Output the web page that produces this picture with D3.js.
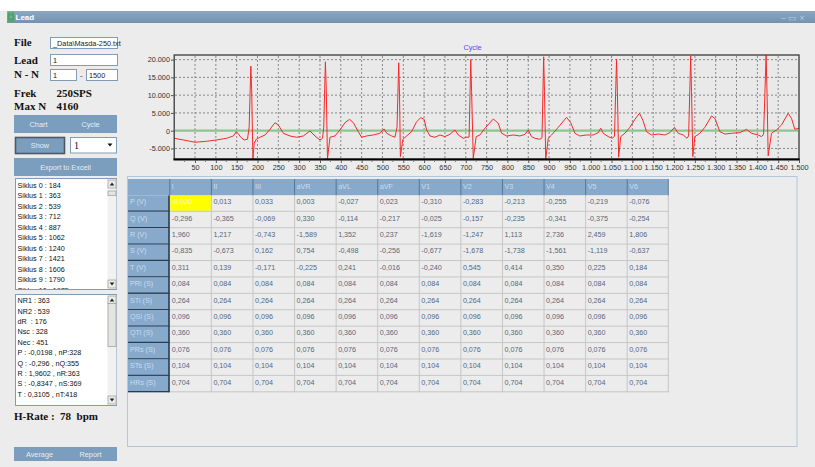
<!DOCTYPE html>
<html><head><meta charset="utf-8">
<script src="https://cdn.jsdelivr.net/npm/d3@7"></script>
<style>html,body{margin:0;padding:0;background:#fff;overflow:hidden}svg{display:block}text{white-space:pre}</style>
</head><body>
<script>
// ---------- DATA ----------
const ecgX = [0,22,50,78,102,126,142,149,154,160,168,176,180,184,186,189,192,197,206,218,230,242,250,262,278,294,310,326,338,350,356,359,363,365,368,374,386,398,410,421,430,442,450,462,478,494,504,510,522,530,535,539,541,543,549,558,570,582,592,600,606,614,626,638,650,662,674,682,694,702,708,712,714,718,725,734,746,766,778,786,798,814,830,842,850,858,866,878,883,887,889,892,898,906,922,942,952,962,974,990,1006,1018,1024,1030,1042,1052,1057,1062,1064,1067,1072,1082,1094,1106,1117,1125,1134,1146,1162,1178,1190,1201,1210,1222,1231,1235,1240,1242,1245,1250,1262,1274,1290,1298,1310,1322,1338,1358,1374,1386,1402,1410,1415,1421,1423,1426,1434,1446,1458,1474,1482,1490,1500];
const ecgY = [-2140,-2610,-3260,-2980,-2610,-2140,-1490,-280,-930,-1850,-2610,-2400,1120,18170,11430,-8000,-3540,-2420,-1850,-1210,390,2250,1600,-730,-1490,-1850,-1490,-80,-1490,-2610,-2140,1000,19380,12000,-8000,-1850,-1490,200,2250,3200,2250,-280,-1850,-1490,-1210,-730,480,-730,-1490,-1850,1000,19100,10000,-7300,-2420,-1490,-280,2530,3650,3200,200,-1490,-1850,-1210,-1660,-1000,200,-1210,-2140,-1850,-1800,20050,11000,-7750,-1680,-1210,670,3290,2070,-730,-1490,-1210,-1490,-1050,200,-1680,-2140,-2420,-2000,20800,11000,-8000,-2140,-1210,950,3750,2250,-730,-1490,-1210,-1210,-560,670,-730,-1680,-2140,-1500,20050,11000,-7470,-1680,-730,950,3200,4890,3000,-280,-1210,-950,-1210,-560,950,-730,-1210,-2140,-1500,20980,11000,-7300,-1680,-730,950,4130,3480,-280,-950,-730,-560,390,-730,-1210,-1680,-1000,21270,12000,-7100,-730,200,1600,4890,3480,390,670];
const xTicks = [50,100,150,200,250,300,350,400,450,500,550,600,650,700,750,800,850,900,950,1000,1050,1100,1150,1200,1250,1300,1350,1400,1450,1500];
const yTicks = [-5000,0,5000,10000,15000,20000];
const cycles = [184,363,539,712,887,1062,1240,1421,1606,1790,1975];
const infoLines = ["NR1 : 363","NR2 : 539","dR  : 176","Nsc : 328","Nec : 451","P : -0,0198 , nP:328","Q : -0,296 , nQ:355","R : 1,9602 , nR:363","S : -0,8347 , nS:369","T : 0,3105 , nT:418"];
const leads = ["I","II","III","aVR","aVL","aVF","V1","V2","V3","V4","V5","V6"];
const params = ["P (V)","Q (V)","R (V)","S (V)","T (V)","PRi (S)","STi (S)","QSi (S)","QTi (S)","PRs (S)","STs (S)","HRs (S)"];
const tP = [-0.020,0.013,0.033,0.003,-0.027,0.023,-0.310,-0.283,-0.213,-0.255,-0.219,-0.076];
const tQ = [-0.296,-0.365,-0.069,0.330,-0.114,-0.217,-0.025,-0.157,-0.235,-0.341,-0.375,-0.254];
const tR = [1.960,1.217,-0.743,-1.589,1.352,0.237,-1.619,-1.247,1.113,2.736,2.459,1.806];
const tS = [-0.835,-0.673,0.162,0.754,-0.498,-0.256,-0.677,-1.678,-1.738,-1.561,-1.119,-0.637];
const tT = [0.311,0.139,-0.171,-0.225,0.241,-0.016,-0.240,0.545,0.414,0.350,0.225,0.184];
const tPRi = [0.084,0.084,0.084,0.084,0.084,0.084,0.084,0.084,0.084,0.084,0.084,0.084];
const tSTi = [0.264,0.264,0.264,0.264,0.264,0.264,0.264,0.264,0.264,0.264,0.264,0.264];
const tQSi = [0.096,0.096,0.096,0.096,0.096,0.096,0.096,0.096,0.096,0.096,0.096,0.096];
const tQTi = [0.360,0.360,0.360,0.360,0.360,0.360,0.360,0.360,0.360,0.360,0.360,0.360];
const tPRs = [0.076,0.076,0.076,0.076,0.076,0.076,0.076,0.076,0.076,0.076,0.076,0.076];
const tSTs = [0.104,0.104,0.104,0.104,0.104,0.104,0.104,0.104,0.104,0.104,0.104,0.104];
const tHRs = [0.704,0.704,0.704,0.704,0.704,0.704,0.704,0.704,0.704,0.704,0.704,0.704];
const tableRows = [tP,tQ,tR,tS,tT,tPRi,tSTi,tQSi,tQTi,tPRs,tSTs,tHRs];

// ---------- SETUP ----------
const W=815,H=467;
const SANS='"Liberation Sans", Arial, sans-serif';
const SERIF='"Liberation Serif", "Times New Roman", serif';
const BTN='#7b9ebf', BTNTXT='#e4edf6', BORDER='#7f9db9';
const loc = d3.formatLocale({decimal:",",thousands:".",grouping:[3],currency:["",""],minus:"-"});
const fInt = loc.format(",d"), fDec = loc.format(".3f");

const svg=d3.select("body").append("svg").attr("width",W).attr("height",H);
svg.append("rect").attr("width",W).attr("height",H).attr("fill","#fff");
svg.append("rect").attr("x",0).attr("y",11).attr("width",W).attr("height",H-11).attr("fill","#ececec");
const defs=svg.append("defs");
const g1=defs.append("linearGradient").attr("id","tb").attr("x1",0).attr("y1",0).attr("x2",0).attr("y2",1);
g1.append("stop").attr("offset","0").attr("stop-color","#8aa8c4");
g1.append("stop").attr("offset","1").attr("stop-color","#7493b1");
// title bar
svg.append("rect").attr("x",7).attr("y",11).attr("width",W-7).attr("height",12).attr("fill","url(#tb)");
svg.append("circle").attr("cx",11).attr("cy",17).attr("r",2.6).attr("fill","none").attr("stroke","#3fae3f").attr("stroke-width",1.6);
svg.append("path").attr("d","M8,14 l2,-2 M14,14 l-2,-2 M8,20 l2,2 M14,20 l-2,2").attr("stroke","#3fae3f").attr("stroke-width",1.2);
svg.append("text").attr("x",15.5).attr("y",20).text("Lead").attr("font-family",SANS).attr("font-weight","bold").attr("font-size",8).attr("fill","#fff");
svg.append("text").attr("x",781).attr("y",20.5).text("– ▭ ×").attr("font-family",SANS).attr("font-size",8.5).attr("fill","#b9cadb");

// ---------- LEFT PANEL ----------
function label(x,y,t,size){svg.append("text").attr("x",x).attr("y",y).text(t).attr("font-family",SERIF).attr("font-weight","bold").attr("font-size",size||11).attr("fill","#111");}
function input(x,y,w,h,t){svg.append("rect").attr("x",x+0.5).attr("y",y+0.5).attr("width",w).attr("height",h).attr("fill","#fff").attr("stroke",BORDER);
  if(t!==undefined) svg.append("text").attr("x",x+3).attr("y",y+h-2.5).text(t).attr("font-family",SANS).attr("font-size",7.3).attr("fill","#222");}
label(14,46,"File"); input(50,37,67,11,"_Data\\Masda-250.txt");
label(14,63.5,"Lead"); input(50,54,67,11,"1");
label(14,78,"N - N"); input(50,69,26,11,"1"); svg.append("text").attr("x",80).attr("y",77.5).text("-").attr("font-family",SANS).attr("font-size",8).attr("fill","#333"); input(86,69,31,11,"1500");
label(14,97,"Frek"); label(56.5,97,"250SPS");
label(14,110,"Max N"); label(56.5,110,"4160");

function bar(y,h,items){svg.append("rect").attr("x",14).attr("y",y).attr("width",103).attr("height",h).attr("fill",BTN);
  items.forEach(([t,cx])=>svg.append("text").attr("x",cx).attr("y",y+h/2+2.6).attr("text-anchor","middle").text(t).attr("font-family",SANS).attr("font-size",7.3).attr("fill",BTNTXT));}
bar(115,18,[["Chart",38.5],["Cycle",90.5]]);
svg.append("rect").attr("x",15.5).attr("y",137.5).attr("width",49).attr("height",16).attr("fill",BTN).attr("stroke","#4b5868").attr("stroke-width",1.6);
svg.append("text").attr("x",40).attr("y",148).attr("text-anchor","middle").text("Show").attr("font-family",SANS).attr("font-size",7.3).attr("fill",BTNTXT);
svg.append("rect").attr("x",70.5).attr("y",137.5).attr("width",46).attr("height",15.5).attr("fill","#fff").attr("stroke",BORDER);
svg.append("text").attr("x",74).attr("y",149).text("1").attr("font-family",SERIF).attr("font-size",10).attr("fill","#111");
svg.append("path").attr("d","M107.5,143.5 h5 l-2.5,3 z").attr("fill","#111");
bar(158,18,[["Export to Excell",65.5]]);
bar(447,14,[["Average",39.5],["Report",90.5]]);

function listbox(id,y0,h,lines,ly0,dy,thumbY,thumbH){
  svg.append("rect").attr("x",15.5).attr("y",y0+0.5).attr("width",101).attr("height",h).attr("fill","#fff").attr("stroke",BORDER);
  defs.append("clipPath").attr("id",id).append("rect").attr("x",16).attr("y",y0+1).attr("width",91).attr("height",h-1);
  const g=svg.append("g").attr("clip-path",`url(#${id})`);
  g.selectAll("text").data(lines).join("text").attr("x",17.5).attr("y",(d,i)=>ly0+i*dy+2.5).text(d=>d)
    .attr("font-family",SANS).attr("font-size",7.2).attr("fill","#111");
  const sx=107.5;
  svg.append("rect").attr("x",sx).attr("y",y0+1.5).attr("width",9).attr("height",h-2).attr("fill","#f1f1ef");
  svg.append("rect").attr("x",sx+0.5).attr("y",y0+2).attr("width",8).attr("height",8).attr("fill","#ebebe6").attr("stroke","#9a9a9a").attr("stroke-width",0.7);
  svg.append("path").attr("d",`M${sx+2.2},${y0+7.5} h4.6 l-2.3,-3 z`).attr("fill","#222");
  svg.append("rect").attr("x",sx+0.5).attr("y",y0+h-9).attr("width",8).attr("height",8).attr("fill","#ebebe6").attr("stroke","#9a9a9a").attr("stroke-width",0.7);
  svg.append("path").attr("d",`M${sx+2.2},${y0+h-6.5} h4.6 l-2.3,3 z`).attr("fill","#222");
  svg.append("rect").attr("x",sx+0.5).attr("y",thumbY).attr("width",8).attr("height",thumbH).attr("fill","#e4e4e0").attr("stroke","#9a9a9a").attr("stroke-width",0.7);
}
listbox("lb1",178,111,cycles.map((c,i)=>`Siklus ${i} : ${c}`),185,10.5,191,4.5);
listbox("lb2",294,111,infoLines,300.7,10.4,303.5,43);
svg.append("text").attr("x",14).attr("y",419.5).text("H-Rate :  78  bpm").attr("font-family",SERIF).attr("font-weight","bold").attr("font-size",11).attr("fill","#111");

// ---------- CHART ----------
const x=d3.scaleLinear().domain([0,1500]).range([174.2,799]);
const y=d3.scaleLinear().domain([-8000,21300]).range([159.1,55]);
const cg=svg.append("g");
cg.append("rect").attr("x",174.2).attr("y",55).attr("width",624.8).attr("height",104.1).attr("fill","#e9e9e9");
svg.append("text").attr("x",472.5).attr("y",49.5).attr("text-anchor","middle").text("Cycle").attr("font-family",SANS).attr("font-size",7.3).attr("fill","#4b4bff");
cg.selectAll(".gx").data(xTicks.filter(d=>d<1500)).join("line").attr("x1",d=>x(d)).attr("x2",d=>x(d)).attr("y1",56).attr("y2",158)
  .attr("stroke","#7d7d7d").attr("stroke-width",0.9).attr("stroke-dasharray","2,2");
cg.selectAll(".gy").data(yTicks.filter(d=>d!==0)).join("line").attr("x1",175).attr("x2",798).attr("y1",d=>y(d)).attr("y2",d=>y(d))
  .attr("stroke","#7d7d7d").attr("stroke-width",0.9).attr("stroke-dasharray","2,2");
cg.append("line").attr("x1",175).attr("x2",798).attr("y1",y(0)).attr("y2",y(0)).attr("stroke","#8ec58e").attr("stroke-width",2.2);
defs.append("clipPath").attr("id","plotclip").append("rect").attr("x",174.2).attr("y",55).attr("width",624.8).attr("height",104.1);
const pts=ecgX.map((d,i)=>[d,ecgY[i]]);
cg.append("path").attr("clip-path","url(#plotclip)").attr("d",d3.line().x(d=>x(d[0])).y(d=>y(d[1]))(pts))
  .attr("fill","none").attr("stroke","#f42a2a").attr("stroke-width",1).attr("stroke-linejoin","round");
cg.append("rect").attr("x",174.2).attr("y",55).attr("width",624.8).attr("height",104.1).attr("fill","none").attr("stroke","#3a3a3a").attr("stroke-width",1.3);
cg.append("line").attr("x1",173.5).attr("x2",799.7).attr("y1",159.4).attr("y2",159.4).attr("stroke","#000").attr("stroke-width",2);
const xAxis=d3.axisBottom(x).tickValues(xTicks).tickFormat(fInt).tickSize(3).tickPadding(2);
const ax=cg.append("g").attr("transform","translate(0,160)").call(xAxis);
ax.select(".domain").remove();
ax.selectAll("line").attr("stroke","#555");
ax.selectAll("text").attr("font-family",SANS).attr("font-size",7.3).attr("fill","#333");
const minor=d3.range(25,1500,50);
cg.selectAll(".mt").data(minor).join("line").attr("x1",d=>x(d)).attr("x2",d=>x(d)).attr("y1",160).attr("y2",162).attr("stroke","#777");
const yAxis=d3.axisLeft(y).tickValues(yTicks).tickFormat(fInt).tickSize(3).tickPadding(1);
const ay=cg.append("g").attr("transform","translate(174,0)").call(yAxis);
ay.select(".domain").remove();
ay.selectAll("line").attr("stroke","#555");
ay.selectAll("text").attr("font-family",SANS).attr("font-size",7.3).attr("fill","#333");

// ---------- TABLE ----------
svg.append("rect").attr("x",127.5).attr("y",176.5).attr("width",669.5).attr("height",270).attr("fill","#ececec").attr("stroke","#b3c7da");
const colX=d3.scaleBand().domain(leads).range([169.3,668.3]);
const rowY=d3.scaleBand().domain(["hdr",...params]).range([179,392.3]);
const rh=rowY.bandwidth(), cw=colX.bandwidth();
const HB='#87aacc', HT='#c9dcee';
const tg=svg.append("g");
tg.append("rect").attr("x",128).attr("y",179).attr("width",668.3-128).attr("height",rh).attr("fill",HB);
tg.selectAll(".hl").data(leads).join("line").attr("x1",d=>colX(d)+0.5).attr("x2",d=>colX(d)+0.5).attr("y1",179).attr("y2",179+rh).attr("stroke","#4a6a8a").attr("stroke-width",0.8);
tg.selectAll(".ht").data(leads).join("text").attr("x",d=>colX(d)+2.5).attr("y",179+9.5).text(d=>d).attr("font-family",SANS).attr("font-size",7.2).attr("fill",HT);
const rg=tg.selectAll(".rh").data(params).join("g");
rg.append("rect").attr("x",128).attr("y",d=>rowY(d)).attr("width",169.3-128).attr("height",rh).attr("fill",HB);
rg.append("line").attr("x1",128).attr("x2",169.3).attr("y1",d=>rowY(d)+rh-0.6).attr("y2",d=>rowY(d)+rh-0.6).attr("stroke","#2a3c50").attr("stroke-width",1.3);
rg.append("text").attr("x",130).attr("y",d=>rowY(d)+8.8).text(d=>d).attr("font-family",SANS).attr("font-size",7.2).attr("fill",HT);
tg.append("line").attr("x1",169).attr("x2",169).attr("y1",rowY(params[0])).attr("y2",392.3).attr("stroke","#2a3c50").attr("stroke-width",1.6);
params.forEach((p,ri)=>{
  const vals=tableRows[ri];
  leads.forEach((l,ci)=>{
    const cx=colX(l), cy=rowY(p), hl=(ri===0&&ci===0);
    tg.append("rect").attr("x",cx+1).attr("y",cy).attr("width",cw-1).attr("height",rh-1).attr("fill",hl?"#ffff00":"#ececec");
    tg.append("text").attr("x",cx+2.5).attr("y",cy+8.8).text(fDec(vals[ci])).attr("font-family",SANS).attr("font-size",7.2).attr("fill",hl?"#f4f4f4":"#56677e");
  });
});
tg.selectAll(".vg").data(leads.slice(1).concat(["end"])).join("line")
  .attr("x1",d=>d==="end"?668.3:colX(d)+0.5).attr("x2",d=>d==="end"?668.3:colX(d)+0.5)
  .attr("y1",rowY(params[0])).attr("y2",392.3).attr("stroke","#c6c6c6").attr("stroke-width",1);
tg.append("line").attr("x1",668.3).attr("x2",668.3).attr("y1",179).attr("y2",179+rh).attr("stroke","#4a6a8a").attr("stroke-width",0.8);
tg.selectAll(".hg").data(params).join("line").attr("x1",170).attr("x2",668.3)
  .attr("y1",d=>rowY(d)+rh-0.5).attr("y2",d=>rowY(d)+rh-0.5).attr("stroke","#c6c6c6").attr("stroke-width",1);
</script>
</body></html>
